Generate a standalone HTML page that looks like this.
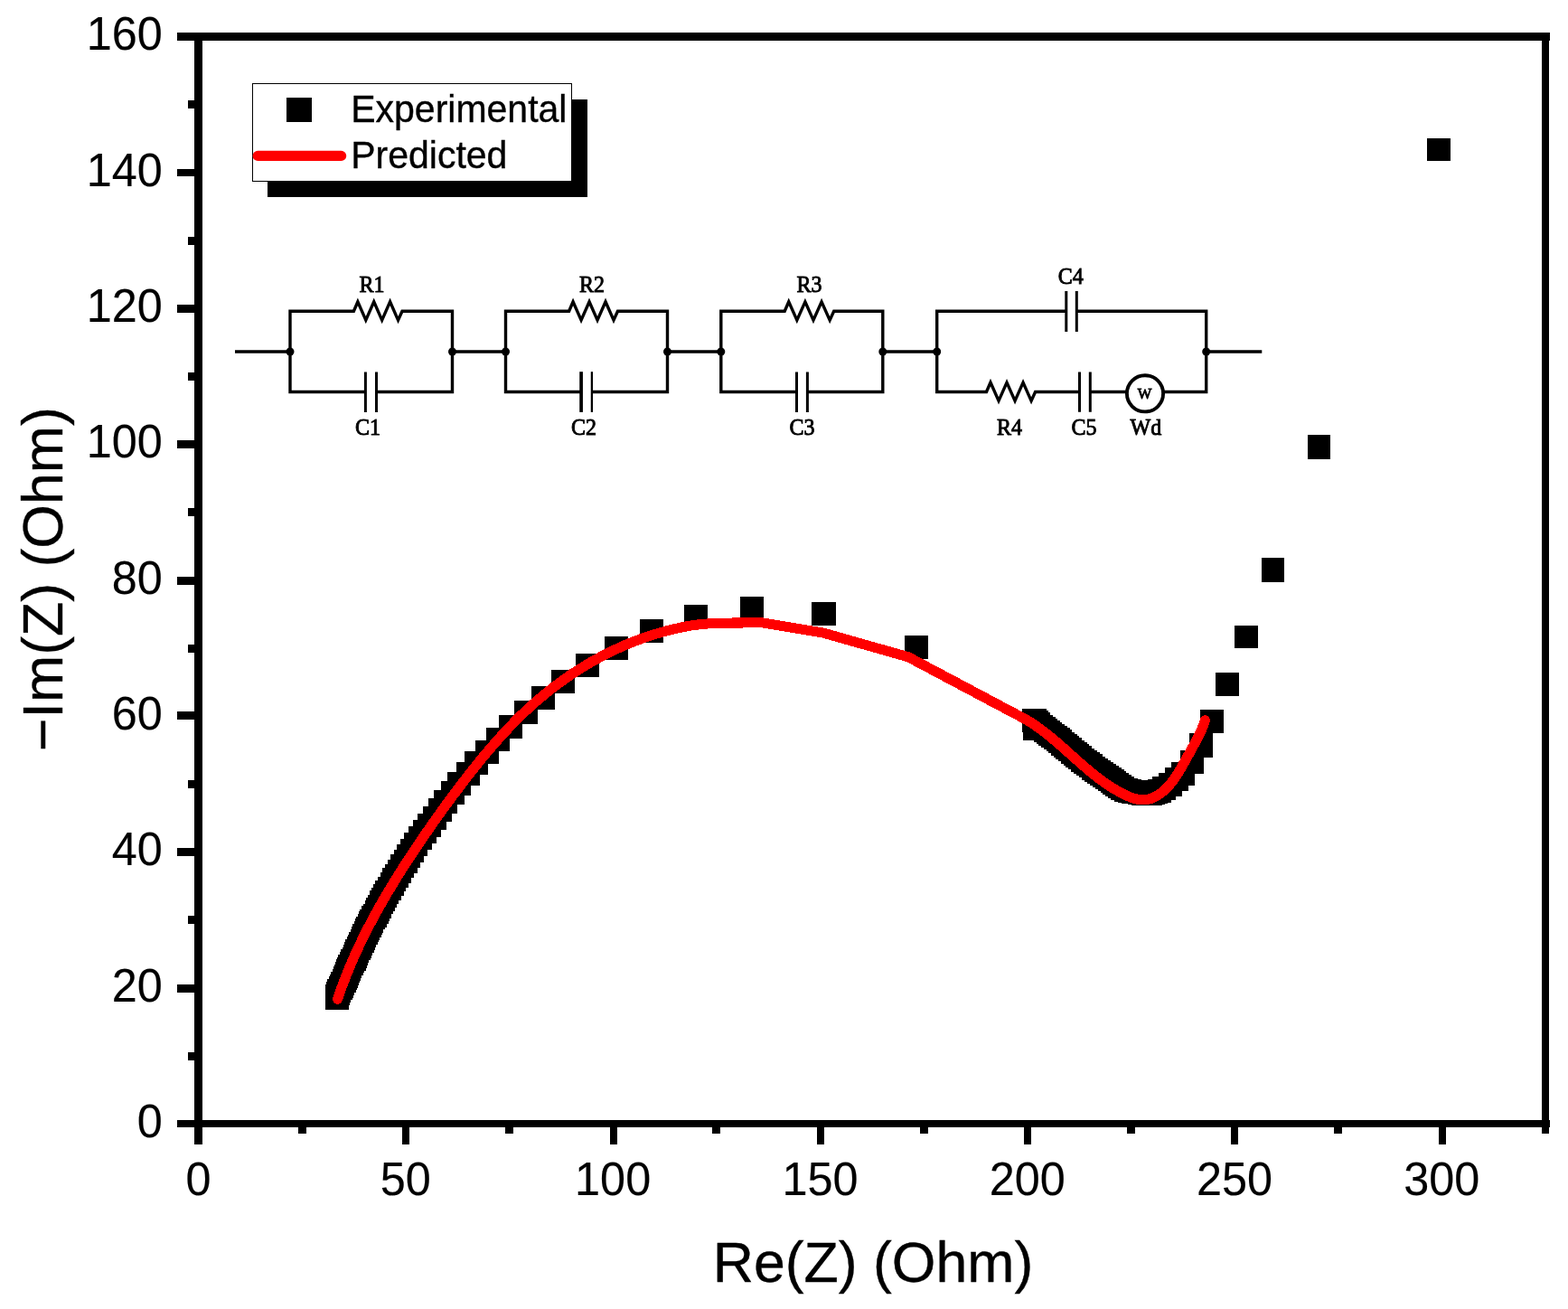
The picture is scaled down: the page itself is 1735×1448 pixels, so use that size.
<!DOCTYPE html>
<html lang="en"><head><meta charset="utf-8"><title>Nyquist plot</title>
<style>html,body{margin:0;padding:0;background:#fff;overflow:hidden;}svg{display:block;}.sans{font-family:"Liberation Sans",Arial,Helvetica,sans-serif;fill:#000;stroke:#000;stroke-width:0.35px;}.serif{font-family:"Liberation Serif","Times New Roman",serif;fill:#000;}</style></head><body>
<svg width="1735" height="1448" viewBox="0 0 1735 1448" role="img" aria-label="Nyquist plot: experimental and predicted impedance with equivalent circuit">
<rect x="0" y="0" width="1735" height="1448" fill="#fff"/>
<g id="frame" fill="#000" shape-rendering="crispEdges">
<rect x="215" y="36" width="1500" height="9"/>
<rect x="215" y="1239" width="1500" height="8"/>
<rect x="215" y="36" width="9" height="1211"/>
<rect x="1706" y="36" width="8" height="1211"/>
<rect x="196" y="1089" width="20" height="9"/>
<rect x="196" y="938" width="20" height="9"/>
<rect x="196" y="787" width="20" height="9"/>
<rect x="196" y="638" width="20" height="9"/>
<rect x="196" y="487" width="20" height="9"/>
<rect x="196" y="337" width="20" height="9"/>
<rect x="196" y="187" width="20" height="8"/>
<rect x="196" y="36" width="20" height="9"/>
<rect x="196" y="1239" width="20" height="8"/>
<rect x="208" y="1164" width="8" height="9"/>
<rect x="208" y="1013" width="8" height="9"/>
<rect x="208" y="863" width="8" height="9"/>
<rect x="208" y="713" width="8" height="9"/>
<rect x="208" y="562" width="8" height="9"/>
<rect x="208" y="412" width="8" height="9"/>
<rect x="208" y="262" width="8" height="9"/>
<rect x="208" y="111" width="8" height="9"/>
<rect x="445" y="1246" width="8" height="20"/>
<rect x="675" y="1246" width="8" height="20"/>
<rect x="904" y="1246" width="8" height="20"/>
<rect x="1133" y="1246" width="8" height="20"/>
<rect x="1362" y="1246" width="8" height="20"/>
<rect x="1592" y="1246" width="8" height="20"/>
<rect x="215" y="1246" width="9" height="20"/>
<rect x="330" y="1246" width="9" height="8"/>
<rect x="559" y="1246" width="9" height="8"/>
<rect x="788" y="1246" width="9" height="8"/>
<rect x="1018" y="1246" width="9" height="8"/>
<rect x="1247" y="1246" width="9" height="8"/>
<rect x="1476" y="1246" width="9" height="8"/>
<rect x="1706" y="1246" width="8" height="8"/>
</g>
<g id="ticklabels">
<text class="sans" font-size="50.4" text-anchor="end" transform="translate(179.80,1257.90) scale(1,1.045)" style="stroke-width:0.15px">0</text>
<text class="sans" font-size="50.4" text-anchor="end" transform="translate(179.80,1107.59) scale(1,1.045)" style="stroke-width:0.15px">20</text>
<text class="sans" font-size="50.4" text-anchor="end" transform="translate(179.80,957.27) scale(1,1.045)" style="stroke-width:0.15px">40</text>
<text class="sans" font-size="50.4" text-anchor="end" transform="translate(179.80,806.96) scale(1,1.045)" style="stroke-width:0.15px">60</text>
<text class="sans" font-size="50.4" text-anchor="end" transform="translate(179.80,656.65) scale(1,1.045)" style="stroke-width:0.15px">80</text>
<text class="sans" font-size="50.4" text-anchor="end" transform="translate(179.80,506.34) scale(1,1.045)" style="stroke-width:0.15px">100</text>
<text class="sans" font-size="50.4" text-anchor="end" transform="translate(179.80,356.02) scale(1,1.045)" style="stroke-width:0.15px">120</text>
<text class="sans" font-size="50.4" text-anchor="end" transform="translate(179.80,205.71) scale(1,1.045)" style="stroke-width:0.15px">140</text>
<text class="sans" font-size="50.4" text-anchor="end" transform="translate(179.80,55.40) scale(1,1.045)" style="stroke-width:0.15px">160</text>
<text class="sans" font-size="50.4" text-anchor="middle" transform="translate(219.50,1322.10) scale(1,1.045)" style="stroke-width:0.15px">0</text>
<text class="sans" font-size="50.4" text-anchor="middle" transform="translate(448.81,1322.10) scale(1,1.045)" style="stroke-width:0.15px">50</text>
<text class="sans" font-size="50.4" text-anchor="middle" transform="translate(678.12,1322.10) scale(1,1.045)" style="stroke-width:0.15px">100</text>
<text class="sans" font-size="50.4" text-anchor="middle" transform="translate(907.42,1322.10) scale(1,1.045)" style="stroke-width:0.15px">150</text>
<text class="sans" font-size="50.4" text-anchor="middle" transform="translate(1136.73,1322.10) scale(1,1.045)" style="stroke-width:0.15px">200</text>
<text class="sans" font-size="50.4" text-anchor="middle" transform="translate(1366.04,1322.10) scale(1,1.045)" style="stroke-width:0.15px">250</text>
<text class="sans" font-size="50.4" text-anchor="middle" transform="translate(1595.35,1322.10) scale(1,1.045)" style="stroke-width:0.15px">300</text>
</g>
<g id="titles">
<text class="sans" font-size="62.6" text-anchor="middle" transform="translate(966.00,1417.90) scale(1,1.02)">Re(Z) (Ohm)</text>
<text class="sans" font-size="62.6" text-anchor="middle" transform="translate(69.1,640.6) rotate(-90) scale(1,1.02)">−Im(Z) (Ohm)</text>
</g>
<g id="legend">
<rect x="296" y="110" width="354" height="108" fill="#000" shape-rendering="crispEdges"/>
<rect x="279.5" y="92.5" width="353" height="108" fill="#fff" stroke="#000" stroke-width="1" shape-rendering="crispEdges"/>
<rect x="317" y="108" width="28" height="27" fill="#000" shape-rendering="crispEdges"/>
<line x1="285.2" y1="172.4" x2="377.6" y2="172.4" stroke="#f00" stroke-width="11.2" stroke-linecap="round"/>
<text class="sans" font-size="41" text-anchor="start" transform="translate(388.20,135.10) scale(1,1.02)">Experimental</text>
<text class="sans" font-size="41" text-anchor="start" transform="translate(388.20,185.80) scale(1,1.02)">Predicted</text>
</g>
<g id="circuit" fill="none" stroke="#000" stroke-width="3.4" stroke-linejoin="miter" stroke-miterlimit="10" stroke-linecap="butt">
<path d="M260,389.0 H321"/>
<path d="M500.5,389.0 H559.5"/>
<path d="M738.5,389.0 H797.8"/>
<path d="M976.8,389.0 H1036.7"/>
<path d="M1334.7,389.0 H1396.3"/>
<path d="M404.4,433.5 H321.0 V344.2 H391.4 L395.87,333.80 L404.80,354.10 L413.73,333.80 L422.67,354.10 L431.60,333.80 L440.53,354.10 L445.0,344.2 H500.5 V433.5 H416.5"/>
<path d="M404.4,411.4 V455.9 M416.5,411.4 V455.9" stroke-width="3"/>
<path d="M642.9,433.5 H559.5 V344.2 H629.6 L634.09,333.80 L643.08,354.10 L652.06,333.80 L661.04,354.10 L670.03,333.80 L679.01,354.10 L683.5,344.2 H738.5 V433.5 H655.0"/>
<path d="M643.1,411.2 V455.9" stroke-width="3.7"/>
<path d="M654.9,411.2 V455.9" stroke-width="2.3"/>
<path d="M881.5,433.5 H797.8 V344.2 H868.2 L872.74,333.80 L881.83,354.10 L890.91,333.80 L899.99,354.10 L909.08,333.80 L918.16,354.10 L922.7,344.2 H976.8 V433.5 H893.4"/>
<path d="M881.5,411.4 V455.9 M893.4,411.4 V455.9" stroke-width="3"/>
<path d="M1179.8,344.2 H1036.7 V433.5 H1091.5 L1096.01,423.10 L1105.02,443.40 L1114.04,423.10 L1123.06,443.40 L1132.07,423.10 L1141.09,443.40 L1145.6,433.5 H1194.5"/>
<path d="M1191.3,344.2 H1334.7 V433.5 H1287"/>
<path d="M1206.3,433.5 H1246"/>
<path d="M1179.8,322 V366.9 M1191.3,322 V366.9" stroke-width="3"/>
<path d="M1194.5,411.4 V455.7 M1206.3,411.4 V455.7" stroke-width="3"/>
<circle cx="1267" cy="435.3" r="20.1" stroke-width="3.9" fill="#fff"/>
</g>
<g id="nodes" fill="#000">
<circle cx="321.0" cy="389.0" r="4.5"/>
<circle cx="500.5" cy="389.0" r="4.5"/>
<circle cx="559.5" cy="389.0" r="4.5"/>
<circle cx="738.5" cy="389.0" r="4.5"/>
<circle cx="797.8" cy="389.0" r="4.5"/>
<circle cx="976.8" cy="389.0" r="4.5"/>
<circle cx="1036.7" cy="389.0" r="4.5"/>
<circle cx="1334.7" cy="389.0" r="4.5"/>
</g>
<g id="clabels" stroke="#000" stroke-width="0.85">
<text class="serif" font-size="24" text-anchor="start" transform="translate(397.50,322.60) scale(1,1.06)">R1</text>
<text class="serif" font-size="24" text-anchor="start" transform="translate(393.00,480.80) scale(1,1.06)">C1</text>
<text class="serif" font-size="24" text-anchor="start" transform="translate(641.00,322.60) scale(1,1.06)">R2</text>
<text class="serif" font-size="24" text-anchor="start" transform="translate(632.00,480.80) scale(1,1.06)">C2</text>
<text class="serif" font-size="24" text-anchor="start" transform="translate(881.50,322.60) scale(1,1.06)">R3</text>
<text class="serif" font-size="24" text-anchor="start" transform="translate(873.60,480.80) scale(1,1.06)">C3</text>
<text class="serif" font-size="24" text-anchor="start" transform="translate(1170.80,314.30) scale(1,1.06)">C4</text>
<text class="serif" font-size="24" text-anchor="start" transform="translate(1103.00,480.80) scale(1,1.06)">R4</text>
<text class="serif" font-size="24" text-anchor="start" transform="translate(1185.50,480.80) scale(1,1.06)">C5</text>
<text class="serif" font-size="24" text-anchor="start" transform="translate(1250.50,480.80) scale(1,1.06)">Wd</text>
<text class="serif" font-size="16.5" text-anchor="middle" transform="translate(1266.60,441.40) scale(1,1.0)">W</text>
</g>
<g id="exp" fill="#000" shape-rendering="crispEdges">
<rect x="360" y="1091" width="26" height="26"/>
<rect x="360" y="1089" width="26" height="26"/>
<rect x="361" y="1086" width="26" height="26"/>
<rect x="362" y="1083" width="26" height="26"/>
<rect x="364" y="1080" width="26" height="26"/>
<rect x="365" y="1078" width="26" height="26"/>
<rect x="366" y="1075" width="26" height="26"/>
<rect x="368" y="1072" width="26" height="26"/>
<rect x="369" y="1069" width="26" height="26"/>
<rect x="370" y="1067" width="26" height="26"/>
<rect x="371" y="1064" width="26" height="26"/>
<rect x="372" y="1061" width="26" height="26"/>
<rect x="373" y="1059" width="26" height="26"/>
<rect x="374" y="1056" width="26" height="26"/>
<rect x="376" y="1053" width="26" height="26"/>
<rect x="377" y="1050" width="26" height="26"/>
<rect x="379" y="1048" width="26" height="26"/>
<rect x="380" y="1045" width="26" height="26"/>
<rect x="381" y="1042" width="26" height="26"/>
<rect x="382" y="1039" width="26" height="26"/>
<rect x="384" y="1036" width="26" height="26"/>
<rect x="385" y="1034" width="26" height="26"/>
<rect x="386" y="1031" width="26" height="26"/>
<rect x="388" y="1028" width="26" height="26"/>
<rect x="389" y="1025" width="26" height="26"/>
<rect x="390" y="1022" width="26" height="26"/>
<rect x="392" y="1019" width="26" height="26"/>
<rect x="393" y="1016" width="26" height="26"/>
<rect x="394" y="1014" width="26" height="26"/>
<rect x="396" y="1011" width="26" height="26"/>
<rect x="397" y="1008" width="26" height="26"/>
<rect x="398" y="1006" width="26" height="26"/>
<rect x="400" y="1002" width="26" height="26"/>
<rect x="402" y="1000" width="26" height="26"/>
<rect x="404" y="996" width="26" height="26"/>
<rect x="405" y="993" width="26" height="26"/>
<rect x="407" y="990" width="26" height="26"/>
<rect x="409" y="985" width="26" height="26"/>
<rect x="411" y="982" width="26" height="26"/>
<rect x="413" y="978" width="26" height="26"/>
<rect x="415" y="974" width="26" height="26"/>
<rect x="418" y="970" width="26" height="26"/>
<rect x="421" y="965" width="26" height="26"/>
<rect x="423" y="960" width="26" height="26"/>
<rect x="426" y="956" width="26" height="26"/>
<rect x="429" y="951" width="26" height="26"/>
<rect x="432" y="945" width="26" height="26"/>
<rect x="436" y="940" width="26" height="26"/>
<rect x="439" y="934" width="26" height="26"/>
<rect x="443" y="928" width="26" height="26"/>
<rect x="447" y="921" width="26" height="26"/>
<rect x="452" y="914" width="26" height="26"/>
<rect x="457" y="907" width="26" height="26"/>
<rect x="462" y="900" width="26" height="26"/>
<rect x="468" y="892" width="26" height="26"/>
<rect x="474" y="883" width="26" height="26"/>
<rect x="480" y="874" width="26" height="26"/>
<rect x="488" y="864" width="26" height="26"/>
<rect x="495" y="854" width="26" height="26"/>
<rect x="505" y="843" width="26" height="26"/>
<rect x="514" y="831" width="26" height="26"/>
<rect x="526" y="819" width="26" height="26"/>
<rect x="538" y="805" width="26" height="26"/>
<rect x="552" y="791" width="26" height="26"/>
<rect x="569" y="775" width="26" height="26"/>
<rect x="588" y="759" width="26" height="26"/>
<rect x="610" y="741" width="26" height="26"/>
<rect x="637" y="723" width="26" height="26"/>
<rect x="669" y="704" width="26" height="26"/>
<rect x="708" y="685" width="26" height="26"/>
<rect x="757" y="669" width="26" height="26"/>
<rect x="819" y="660" width="26" height="26"/>
<rect x="898" y="666" width="27" height="26"/>
<rect x="1001" y="703" width="26" height="26"/>
<rect x="1131" y="784" width="26" height="26"/>
<rect x="1132" y="793" width="26" height="26"/>
<rect x="1132" y="784" width="26" height="26"/>
<rect x="1134" y="786" width="26" height="26"/>
<rect x="1136" y="788" width="26" height="26"/>
<rect x="1139" y="791" width="26" height="26"/>
<rect x="1142" y="793" width="26" height="26"/>
<rect x="1144" y="795" width="26" height="26"/>
<rect x="1147" y="797" width="26" height="26"/>
<rect x="1149" y="799" width="26" height="26"/>
<rect x="1152" y="801" width="26" height="26"/>
<rect x="1155" y="803" width="26" height="26"/>
<rect x="1158" y="805" width="26" height="26"/>
<rect x="1160" y="807" width="26" height="26"/>
<rect x="1163" y="810" width="26" height="26"/>
<rect x="1166" y="812" width="26" height="26"/>
<rect x="1168" y="814" width="26" height="26"/>
<rect x="1171" y="816" width="26" height="26"/>
<rect x="1174" y="819" width="26" height="26"/>
<rect x="1177" y="821" width="26" height="26"/>
<rect x="1179" y="823" width="26" height="26"/>
<rect x="1182" y="825" width="26" height="26"/>
<rect x="1185" y="828" width="26" height="26"/>
<rect x="1188" y="830" width="26" height="26"/>
<rect x="1191" y="832" width="26" height="26"/>
<rect x="1194" y="834" width="26" height="26"/>
<rect x="1197" y="837" width="26" height="26"/>
<rect x="1200" y="839" width="26" height="26"/>
<rect x="1203" y="841" width="26" height="26"/>
<rect x="1206" y="843" width="26" height="26"/>
<rect x="1209" y="845" width="26" height="26"/>
<rect x="1212" y="847" width="26" height="26"/>
<rect x="1215" y="849" width="26" height="26"/>
<rect x="1218" y="851" width="26" height="26"/>
<rect x="1220" y="853" width="26" height="26"/>
<rect x="1223" y="855" width="26" height="26"/>
<rect x="1226" y="857" width="26" height="26"/>
<rect x="1229" y="859" width="26" height="26"/>
<rect x="1233" y="861" width="26" height="26"/>
<rect x="1237" y="862" width="26" height="26"/>
<rect x="1241" y="863" width="26" height="26"/>
<rect x="1244" y="863" width="26" height="26"/>
<rect x="1248" y="864" width="26" height="26"/>
<rect x="1252" y="865" width="26" height="26"/>
<rect x="1256" y="865" width="26" height="26"/>
<rect x="1260" y="865" width="26" height="26"/>
<rect x="1263" y="864" width="26" height="26"/>
<rect x="1266" y="863" width="26" height="26"/>
<rect x="1270" y="862" width="26" height="26"/>
<rect x="1275" y="859" width="26" height="26"/>
<rect x="1282" y="855" width="26" height="26"/>
<rect x="1289" y="849" width="26" height="26"/>
<rect x="1296" y="843" width="26" height="26"/>
<rect x="1306" y="830" width="26" height="26"/>
<rect x="1316" y="811" width="26" height="27"/>
<rect x="1328" y="785" width="26" height="26"/>
<rect x="1345" y="744" width="26" height="26"/>
<rect x="1366" y="692" width="26" height="25"/>
<rect x="1396" y="617" width="25" height="27"/>
<rect x="1447" y="481" width="25" height="27"/>
<rect x="1579" y="153" width="26" height="25"/>
</g>
<path id="pred" d="M373.5,1105.1 L375.6,1099.2 L377.6,1093.4 L379.8,1087.6 L382.0,1081.8 L384.3,1076.1 L386.6,1070.4 L389.1,1064.7 L391.5,1059.1 L394.1,1053.5 L396.6,1047.9 L399.3,1042.4 L402.0,1036.8 L404.7,1031.3 L407.5,1025.9 L410.4,1020.4 L413.3,1015.0 L416.2,1009.6 L419.2,1004.2 L422.2,998.9 L425.3,993.6 L428.4,988.2 L431.6,983.0 L434.8,977.7 L438.0,972.4 L441.3,967.2 L444.5,962.0 L447.9,956.8 L451.2,951.6 L454.6,946.5 L458.0,941.4 L461.4,936.2 L464.9,931.1 L468.4,926.0 L471.9,920.9 L475.4,915.9 L478.9,910.8 L482.4,905.8 L486.0,900.8 L489.6,895.8 L493.2,890.8 L496.9,885.8 L500.5,880.9 L504.2,876.0 L507.9,871.1 L511.6,866.2 L515.4,861.3 L519.1,856.5 L522.9,851.7 L526.8,846.9 L530.6,842.1 L534.5,837.4 L538.4,832.7 L542.3,828.1 L546.3,823.5 L550.4,818.9 L554.5,814.3 L558.6,809.8 L562.8,805.3 L567.1,800.8 L571.4,796.4 L575.7,792.1 L580.2,787.8 L584.7,783.6 L589.2,779.5 L593.9,775.4 L598.6,771.4 L603.3,767.4 L608.2,763.6 L613.0,759.8 L618.0,756.1 L623.0,752.5 L628.0,748.9 L633.1,745.4 L638.3,742.1 L643.5,738.8 L648.8,735.6 L654.1,732.4 L659.5,729.4 L664.9,726.5 L670.3,723.6 L675.8,720.9 L681.4,718.2 L687.0,715.7 L692.6,713.2 L698.3,710.9 L704.0,708.7 L709.7,706.5 L715.5,704.5 L721.3,702.6 L727.2,700.8 L733.1,699.1 L739.0,697.5 L744.9,696.0 L750.9,694.7 L756.9,693.4 L763.0,692.3 L769.0,691.3 L791.0,689.2 L843.0,688.8 L910.7,700.0 L1005.0,726.8 L1135.8,796.2 L1139.8,798.7 L1143.8,801.2 L1147.6,803.9 L1151.4,806.6 L1155.1,809.4 L1158.8,812.3 L1162.4,815.2 L1166.0,818.2 L1169.5,821.2 L1173.0,824.3 L1176.5,827.3 L1180.0,830.5 L1183.5,833.6 L1187.0,836.7 L1190.5,839.8 L1193.9,842.9 L1197.4,846.0 L1201.0,849.0 L1204.5,852.0 L1208.1,855.0 L1211.7,857.9 L1215.4,860.8 L1219.1,863.5 L1222.9,866.2 L1226.8,868.9 L1230.7,871.4 L1234.7,873.8 L1238.8,876.1 L1243.0,878.3 L1247.3,880.4 L1251.6,882.2 L1256.0,883.6 L1260.5,884.5 L1264.9,884.9 L1269.3,884.5 L1273.7,883.4 L1277.9,881.5 L1282.0,879.1 L1285.9,876.2 L1289.5,873.1 L1292.8,869.8 L1295.8,866.3 L1298.7,862.6 L1301.3,858.8 L1303.8,854.8 L1306.2,850.8 L1308.5,846.7 L1310.8,842.6 L1313.0,838.5 L1315.3,834.5 L1317.6,830.4 L1319.8,826.3 L1322.1,822.3 L1324.2,818.2 L1326.3,814.1 L1328.3,809.9 L1330.2,805.6 L1331.9,801.2 L1333.4,796.8" fill="none" stroke="#f00" stroke-width="11.1" stroke-linecap="round" stroke-linejoin="round" shape-rendering="crispEdges"/>
</svg></body></html>
